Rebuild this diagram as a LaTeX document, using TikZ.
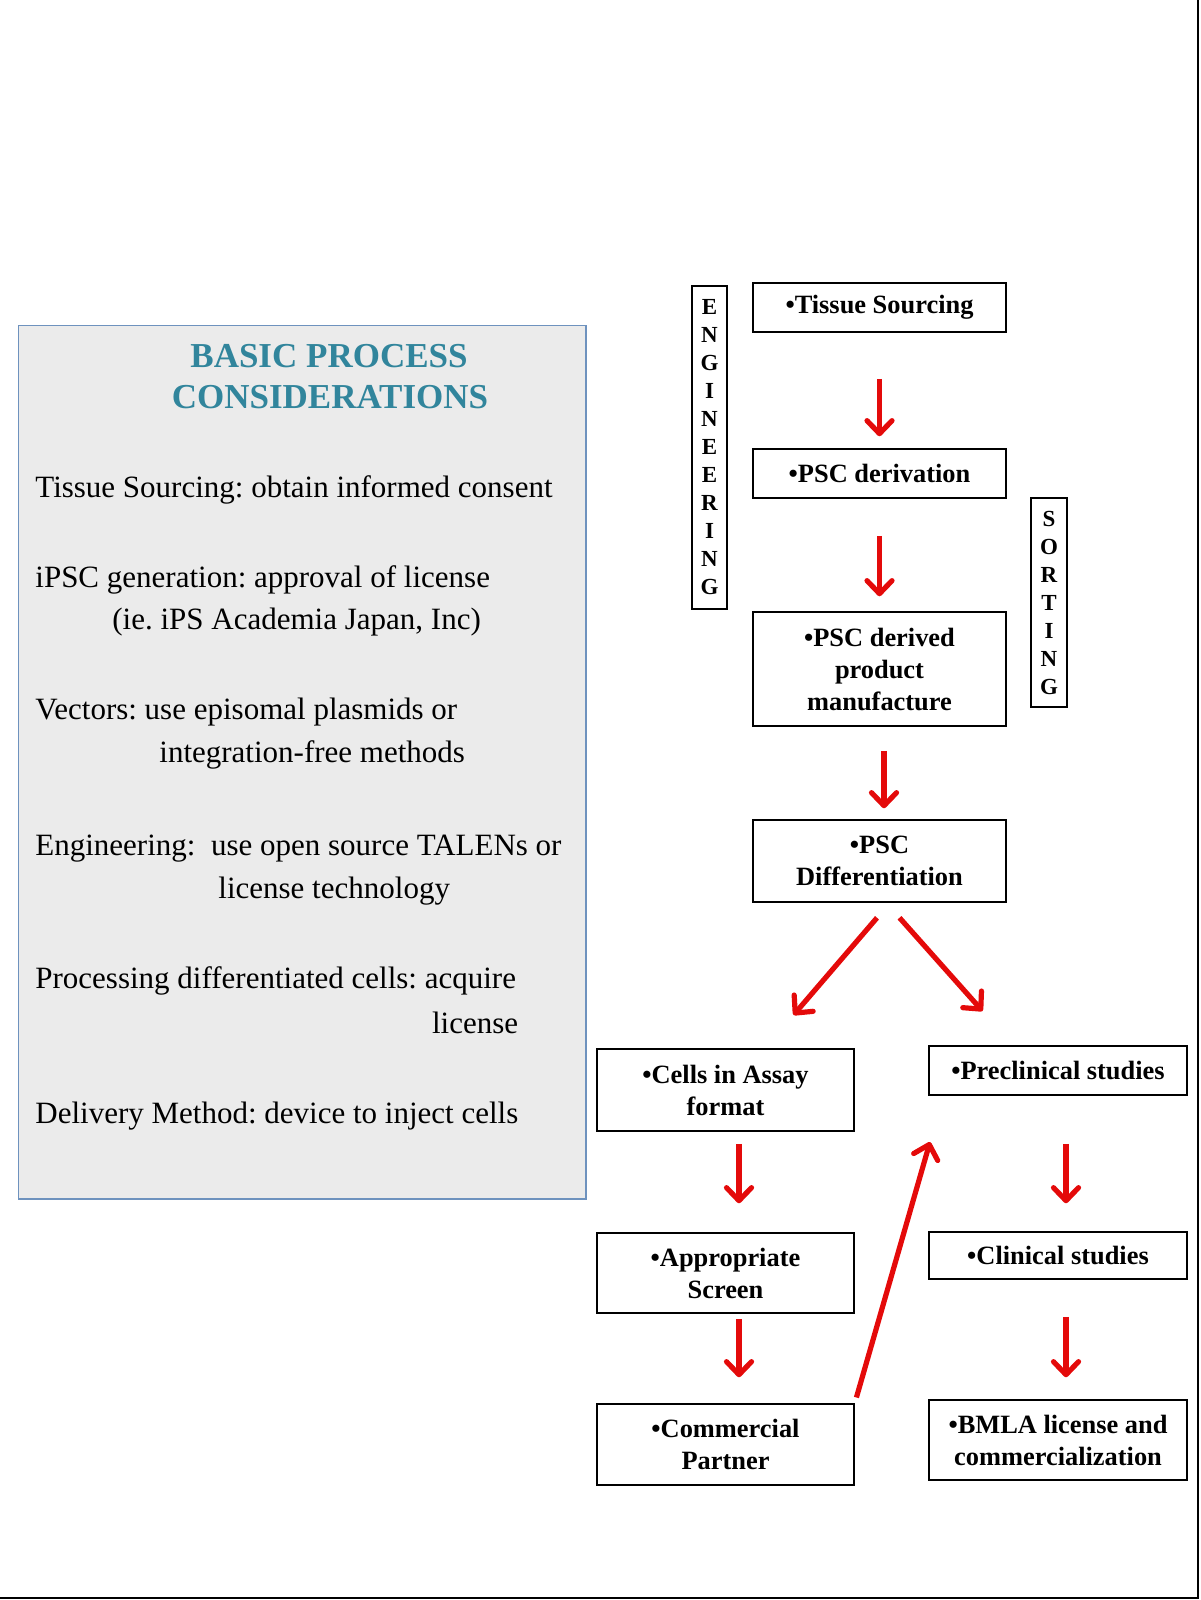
\documentclass[tikz,border=0pt]{standalone}
\usepackage{fontspec}
\setmainfont{Liberation Serif}
\usetikzlibrary{arrows.meta}
\definecolor{arrowred}{RGB}{228,10,10}
\definecolor{headteal}{RGB}{49,133,156}
\definecolor{panelgray}{RGB}{235,235,235}
\definecolor{panelblue}{RGB}{110,146,190}
\frenchspacing

\begin{document}
\begin{tikzpicture}[x=0.5pt,y=-0.5pt]
    \tikzstyle{every node}+=[inner sep=0pt]
    \tikzstyle{stagebox}=[draw=black,line width=0.75pt,align=center,minimum width=126.5pt,font=\bfseries\fontsize{13.2}{16}\selectfont]
    \tikzstyle{letterbox}=[draw=black,line width=0.75pt,align=center,minimum width=17.5pt,font=\bfseries\fontsize{11.5}{14}\selectfont]
    \tikzstyle{flow}=[draw=arrowred,line width=2.6pt,-{Straight Barb[length=6.5pt,width=12.5pt,round]}]
    \tikzstyle{note}=[anchor=base west,font=\fontsize{15.5}{18}\selectfont]
    \tikzstyle{headline}=[anchor=base,text=headteal,font=\bfseries\fontsize{17.5}{21}\selectfont]
    \useasboundingbox (0,0) rectangle (1200,1600);
    \draw [black,line width=1pt] (1198,0) -- (1198,1598) -- (0,1598);
    % left panel
    \node [draw=panelblue,fill=panelgray,line width=0.75pt,minimum width=283.75pt,minimum height=436.75pt] (basics) at (302,762.25) {};
    \node [headline] (head1) at (329,367) {BASIC PROCESS};
    \node [headline] (head2) at (330,408) {CONSIDERATIONS};
    \node [note] (tis) at (35,497) {Tissue Sourcing: obtain informed consent};
    \node [note] (ipsc) at (35,587) {iPSC generation: approval of license};
    \node [note] (ipsc2) at (112,629) {(ie. iPS Academia Japan, Inc)};
    \node [note] (vec) at (35,719) {Vectors: use episomal plasmids or};
    \node [note] (vec2) at (159,762) {integration-free methods};
    \node [note] (eng) at (35,855) {Engineering:\ \ use open source TALENs or};
    \node [note] (eng2) at (218,898) {license technology};
    \node [note] (proc) at (35,988) {Processing differentiated cells: acquire};
    \node [note,anchor=base east] (proc2) at (518.5,1033) {license};
    \node [note] (deliv) at (35,1123) {Delivery Method: device to inject cells};
    % flow chart
    \node [stagebox,minimum height=24.5pt] (tissue) at (879.5,307.5) {\textbullet Tissue Sourcing};
    \node [stagebox,minimum height=24.5pt] (deriv) at (879.5,473.5) {\textbullet PSC derivation};
    \node [stagebox,minimum height=57pt] (product) at (879.5,669) {\textbullet PSC derived\\product\\manufacture};
    \node [stagebox,minimum height=41pt] (diff) at (879.5,861) {\textbullet PSC\\Differentiation};
    \node [stagebox,minimum width=128.5pt,minimum height=41pt] (cells) at (725.5,1090) {\textbullet Cells in Assay\\format};
    \node [stagebox,minimum width=129pt,minimum height=24.5pt] (precl) at (1058,1070.5) {\textbullet Preclinical studies};
    \node [stagebox,minimum width=128.5pt,minimum height=40pt] (screen) at (725.5,1273) {\textbullet Appropriate\\Screen};
    \node [stagebox,minimum width=129pt,minimum height=23.5pt] (clin) at (1058,1255.5) {\textbullet Clinical studies};
    \node [stagebox,minimum width=128.5pt,minimum height=40.5pt] (comm) at (725.5,1444.5) {\textbullet Commercial\\Partner};
    \node [stagebox,minimum width=129pt,minimum height=40pt] (bmla) at (1058,1440) {\textbullet BMLA license and\\commercialization};
    \node [letterbox,minimum height=161.5pt] (engin) at (709.5,447.5) {E\\N\\G\\I\\N\\E\\E\\R\\I\\N\\G};
    \node [letterbox,minimum width=18pt,minimum height=104.5pt] (sortg) at (1049,602.5) {S\\O\\R\\T\\I\\N\\G};
    \coordinate (toassay) at (793.5,1015);
    \coordinate (topre) at (982.5,1011);
    \coordinate (backup) at (930,1142);
    \draw [flow,shorten <=23pt,shorten >=6pt] (tissue) -- (deriv);
    \draw [flow,shorten <=18.5pt,shorten >=7.5pt] (deriv) -- (product);
    \draw [flow,shorten <=12pt,shorten >=5.5pt] ([xshift=2.25pt]product.south) -- ([xshift=2.25pt]diff.north);
    \draw [flow] ([shift={(-2.5,15)}]diff.south) -- (toassay);
    \draw [flow] ([shift={(20,15)}]diff.south) -- (topre);
    \draw [flow,shorten <=6pt,shorten >=14.5pt] ([xshift=6.75pt]cells.south) -- ([xshift=6.75pt]screen.north);
    \draw [flow,shorten <=2.5pt,shorten >=13pt] ([xshift=6.75pt]screen.south) -- ([xshift=6.75pt]comm.north);
    \draw [flow,shorten <=3pt] (comm.north east) -- (backup);
    \draw [flow,shorten <=24pt,shorten >=14pt] ([xshift=4pt]precl.south) -- ([xshift=4pt]clin.north);
    \draw [flow,shorten <=18.5pt,shorten >=11pt] ([xshift=4pt]clin.south) -- ([xshift=4pt]bmla.north);
\end{tikzpicture}
\end{document}
